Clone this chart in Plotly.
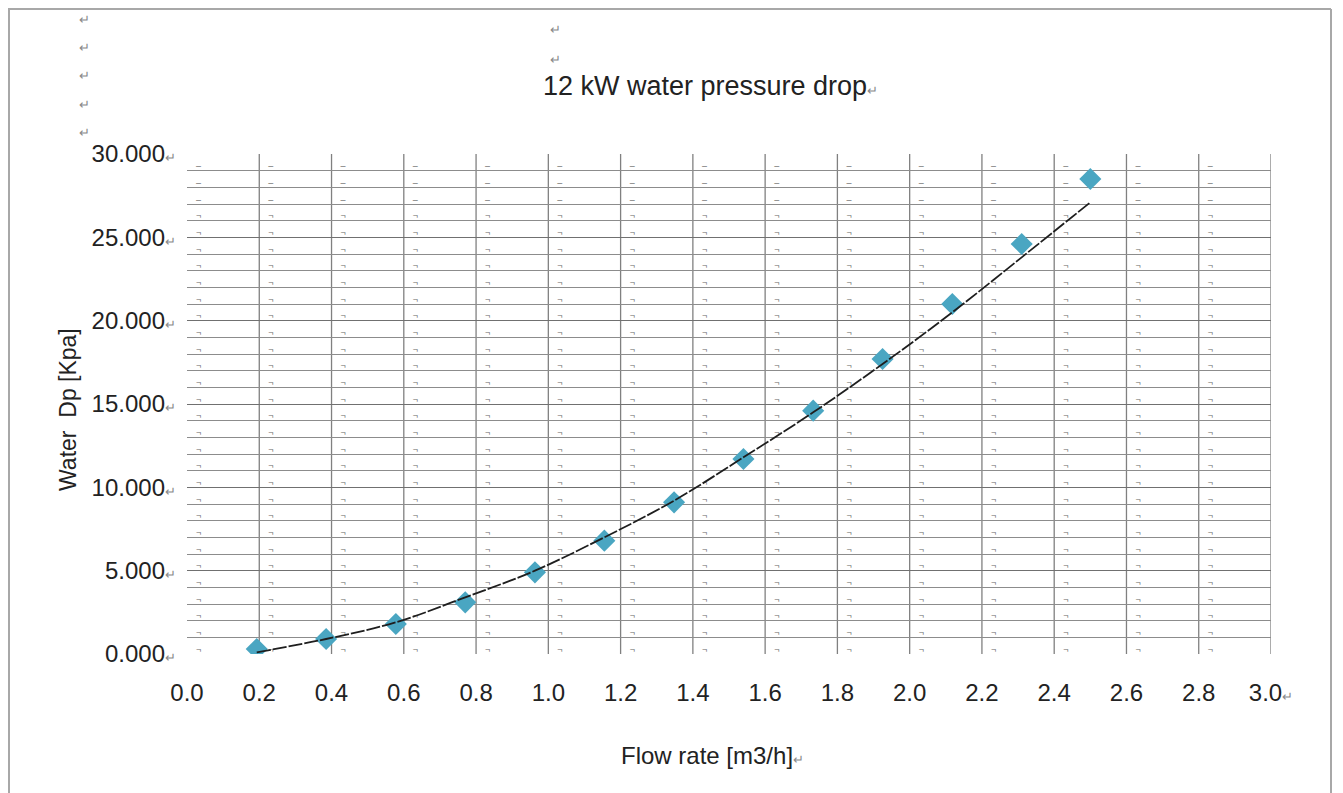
import plotly.graph_objects as go

# ---- data ----
flow = [0.193, 0.385, 0.578, 0.770, 0.963, 1.155, 1.348, 1.540, 1.733, 1.925, 2.118, 2.310, 2.500]
dp = [0.3, 0.9, 1.8, 3.1, 4.9, 6.8, 9.1, 11.7, 14.6, 17.7, 21.0, 24.6, 28.5]
trend = [0.1, 0.9, 1.9, 3.4, 5.0, 7.0, 9.2, 11.8, 14.5, 17.4, 20.5, 23.8, 27.1]

x_ticks = [0.0, 0.2, 0.4, 0.6, 0.8, 1.0, 1.2, 1.4, 1.6, 1.8, 2.0, 2.2, 2.4, 2.6, 2.8, 3.0]
x_labels = ["0.0", "0.2", "0.4", "0.6", "0.8", "1.0", "1.2", "1.4", "1.6", "1.8",
            "2.0", "2.2", "2.4", "2.6", "2.8", "3.0"]
y_ticks = [0, 5, 10, 15, 20, 25, 30]
y_labels = ["0.000", "5.000", "10.000", "15.000", "20.000", "25.000", "30.000"]

title_text = "12 kW water pressure drop"
x_title = "Flow rate [m3/h]"
y_title = "Water  Dp [Kpa]"

# ---- layout geometry (page body has an 8px margin) ----
OFF = 8
W, H = 1335, 785
L, R, T, B = 179, 72, 146, 139
PW, PH = W - L - R, H - T - B
FONT = "Liberation Sans, Arial, sans-serif"
RET = "<span style='font-size:13px;color:#888'>\u21b5</span>"


def px(xs):
    return (xs - OFF - L) / PW


def py(ys):
    return (H - B - (ys - OFF)) / PH


fig = go.Figure()

# Word table end-of-cell marks
mx, my, mt = [], [], []
for c in x_ticks[:-1]:
    for r in range(30):
        mx.append(c + 0.025)
        my.append(r + 0.22)
        mt.append("\u2013" if r >= 27 else "\u00ac")
fig.add_trace(go.Scatter(x=mx, y=my, mode="text", text=mt,
                         textfont=dict(size=9, color="#666", family=FONT),
                         textposition="middle right", hoverinfo="skip",
                         showlegend=False, cliponaxis=False))

fig.add_trace(go.Scatter(x=flow, y=dp, mode="markers",
                         marker=dict(symbol="diamond", size=17, color="#4aa6c2",
                                     line=dict(width=0)),
                         showlegend=False))
fig.add_trace(go.Scatter(x=flow, y=trend, mode="lines", line_shape="spline",
                         line=dict(color="#1e1e1e", width=1.8, dash="14px,2px"),
                         showlegend=False))

# vertical table lines (no line at 0.0)
shapes = []
for xv in x_ticks[1:]:
    shapes.append(dict(type="line", xref="x", yref="y", x0=xv, x1=xv, y0=-0.3, y1=30,
                       line=dict(color="#808080", width=1.3), layer="below"))
# outer frame
for (x0, y0, x1, y1) in [(8, 9, 1331, 9), (9, 9, 9, 800), (1331, 9, 1331, 800)]:
    shapes.append(dict(type="line", xref="paper", yref="paper",
                       x0=px(x0), x1=px(x1), y0=py(y0), y1=py(y1),
                       line=dict(color="#a8a8a8", width=2)))

annotations = [
    dict(text=title_text + RET, x=px(541), y=py(86), xref="paper", yref="paper",
         xanchor="left", yanchor="middle", showarrow=False,
         font=dict(size=27, color="#222", family=FONT)),
    dict(text=x_title + RET, x=px(619), y=py(755), xref="paper", yref="paper",
         xanchor="left", yanchor="middle", showarrow=False,
         font=dict(size=24, color="#222", family=FONT)),
    dict(text=y_title, x=px(68), y=py(410), xref="paper", yref="paper",
         xanchor="center", yanchor="middle", showarrow=False, textangle=-90,
         font=dict(size=23, color="#222", family=FONT)),
]
for yy in [10, 38, 66, 95, 123]:
    annotations.append(dict(text="\u21b5", x=px(77), y=py(yy), xref="paper", yref="paper",
                            showarrow=False, font=dict(size=13, color="#888", family=FONT)))
for yy in [20, 50]:
    annotations.append(dict(text="\u21b5", x=px(548), y=py(yy), xref="paper", yref="paper",
                            showarrow=False, font=dict(size=13, color="#888", family=FONT)))

fig.update_layout(
    width=W, height=H,
    margin=dict(l=L, r=R, t=T, b=B, autoexpand=False),
    paper_bgcolor="white", plot_bgcolor="white",
    font=dict(family=FONT, color="#222"),
    shapes=shapes, annotations=annotations,
    xaxis=dict(range=[0, 3.0], tickvals=x_ticks,
               ticktext=x_labels[:-1] + [x_labels[-1] + RET],
               showgrid=False, zeroline=False, showline=False, ticks="",
               ticklabelstandoff=22, tickfont=dict(size=24, family=FONT, color="#222")),
    yaxis=dict(range=[0, 30], tickvals=y_ticks, ticktext=[t + RET for t in y_labels],
               showgrid=True, gridcolor="#707070", gridwidth=1.4,
               minor=dict(dtick=1, showgrid=True, gridcolor="#8c8c8c", gridwidth=1.1),
               zeroline=False, showline=False, ticks="",
               ticklabelstandoff=10, tickfont=dict(size=24, family=FONT, color="#222")),
)

fig.write_html("out.html")
